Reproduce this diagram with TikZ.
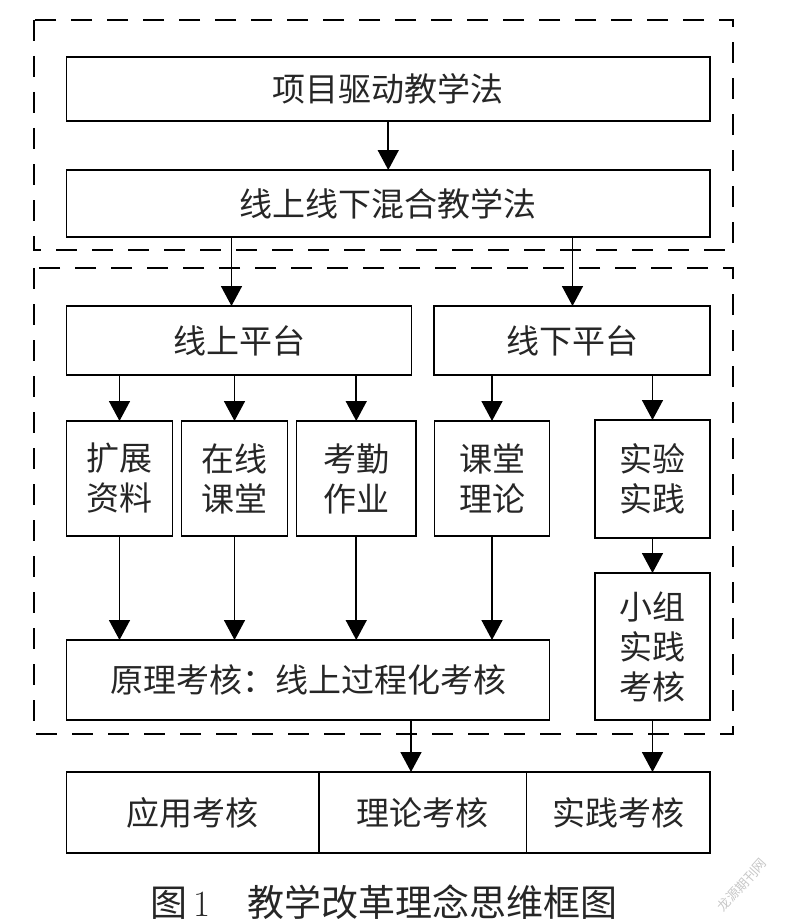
\documentclass[tikz,border=0pt]{standalone}
\usepackage{fontspec}
\newfontfamily\cjk{Noto Sans CJK SC}
\usetikzlibrary{arrows.meta}
\tikzset{
  box/.style={draw, line width=1.8pt, inner sep=0pt, outer sep=0pt, align=center,
    font=\cjk\fontsize{33}{40}\selectfont, text=black!85},
  arr/.style={line width=1.6pt, -{Triangle[length=20pt,width=21pt]}},
  dbox/.style={draw, line width=1.8pt, dash pattern=on 21pt off 15pt},
}
\begin{document}
\begin{tikzpicture}[x=1pt,y=-1pt]
\useasboundingbox (0,0) rectangle (785,923);
% dashed groups
\draw[dbox] (34,20) rectangle (733,250);
\draw[dbox] (34,268) rectangle (733,734);
% boxes
\node[box, minimum width=643.5pt, minimum height=64pt] (p1) at (388.25,89) {项目驱动教学法};
\node[box, minimum width=643.5pt, minimum height=67pt] (p2) at (388.25,203.5) {线上线下混合教学法};
\node[box, minimum width=345pt, minimum height=69pt] (on) at (239,340.5) {线上平台};
\node[box, minimum width=276pt, minimum height=69pt] (off) at (572,340.5) {线下平台};
\node[box, minimum width=106pt, minimum height=115pt] (a) at (119.5,478.5) {扩展\\资料};
\node[box, minimum width=106pt, minimum height=115pt] (b) at (234.5,478.5) {在线\\课堂};
\node[box, minimum width=119.5pt, minimum height=115pt] (c) at (356.25,478.5) {考勤\\作业};
\node[box, minimum width=115pt, minimum height=115pt] (d) at (492,478.5) {课堂\\理论};
\node[box, minimum width=115pt, minimum height=118pt] (e) at (652.5,479) {实验\\实践};
\node[box, minimum width=483pt, minimum height=80pt] (f) at (308,680) {原理考核：线上过程化考核};
\node[box, minimum width=115pt, minimum height=147pt] (g) at (652.5,646.5) {小组\\实践\\考核};
\node[box, minimum width=252.5pt, minimum height=81pt] (h1) at (192.75,812.5) {应用考核};
\node[box, minimum width=207.5pt, minimum height=81pt] (h2) at (422.75,812.5) {理论考核};
\node[box, minimum width=183.5pt, minimum height=81pt] (h3) at (618.25,812.5) {实践考核};
% arrows
\draw[arr] (p1.south) -- (p2.north);
\draw[arr] ([xshift=-7.5pt]on.north |- p2.south) -- ([xshift=-7.5pt]on.north);
\draw[arr] ([xshift=0.5pt]off.north |- p2.south) -- ([xshift=0.5pt]off.north);
\draw[arr] (a.north |- on.south) -- (a.north);
\draw[arr] (b.north |- on.south) -- (b.north);
\draw[arr] (c.north |- on.south) -- (c.north);
\draw[arr] (d.north |- off.south) -- (d.north);
\draw[arr] (e.north |- off.south) -- (e.north);
\draw[arr] (a.south) -- (a.south |- f.north);
\draw[arr] (b.south) -- (b.south |- f.north);
\draw[arr] (c.south) -- (c.south |- f.north);
\draw[arr] (d.south) -- (d.south |- f.north);
\draw[arr] (e.south) -- (g.north);
\coordinate (fo) at ([xshift=103pt]f.south);
\draw[arr] (fo) -- (fo |- h2.north);
\draw[arr] (g.south) -- (g.south |- h3.north);
% caption
\node[font=\cjk\fontsize{37}{42}\selectfont, text=black!85] (cap) at (384,902) {图\,{\rmfamily 1}\hspace{1em}教学改革理念思维框图};
\node[font=\cjk\fontsize{13}{14}\selectfont, text=black!22, rotate=48] (wm) at (742,885) {龙源期刊网};
\end{tikzpicture}
\end{document}
